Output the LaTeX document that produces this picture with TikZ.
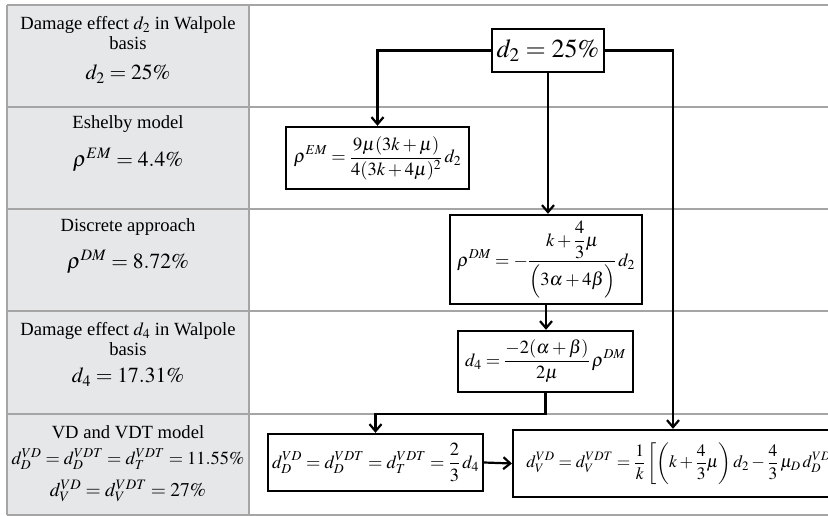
\documentclass[tikz,border=0pt]{standalone}
\usepackage{amsmath}
\usepackage{mathptmx}
\usepackage{fontspec}
\setmainfont{Liberation Serif}
\usetikzlibrary{arrows.meta}
\definecolor{fondgris}{RGB}{230,231,233}
\definecolor{filet}{RGB}{165,165,165}
\newcommand{\rangee}[1]{\draw[filet,line width=1.2pt] (7,#1) -- (840,#1)}
\newcommand{\titre}[3]{\node[gauche] (#1) at (128,#2) {#3}}
\newcommand{\valeur}[3]{\node[gauche,font=\fontsize{21.5}{24}\selectfont] (#1) at (128,#2) {#3}}
\tikzset{
  gauche/.style={align=center,inner sep=0pt,font=\fontsize{18.6}{20}\selectfont},
  boite/.style={draw,line width=2.4pt,inner sep=1pt,font=\fontsize{18.5}{21}\selectfont},
  fleche/.style={line width=2.2pt,-{Straight Barb[length=7pt,width=12pt]}}
}

\begin{document}
\begin{tikzpicture}[x=1pt,y=-1pt]
%
	\useasboundingbox (0,0) rectangle (828,516);
	\clip (0,0) rectangle (828,516);
	\fill[fondgris] (7,5) rectangle (249,515);
	\rangee{5};
	\rangee{107};
	\rangee{209};
	\rangee{311};
	\rangee{414};
	\rangee{515};
	\draw[filet,line width=1.2pt] (7,5) -- (7,515);
	\draw[filet,line width=1.2pt] (249,5) -- (249,515);
%
	\titre{t1}{33}{Damage effect $d_2$ in Walpole\\basis};
	\valeur{v1}{74}{$d_2=25\%$};
	\titre{t2}{124}{Eshelby model};
	\valeur{v2}{160}{$\rho^{EM}=4.4\%$};
	\titre{t3}{227}{Discrete approach};
	\valeur{v3}{262}{$\rho^{DM}=8.72\%$};
	\titre{t4}{339}{Damage effect $d_4$ in Walpole\\basis};
	\valeur{v4}{377}{$d_4=17.31\%$};
	\titre{t5}{432}{VD and VDT model};
	\node[gauche,font=\fontsize{18.4}{22}\selectfont] (v5) at (128,459) {$d_D^{VD}=d_D^{VDT}=d_T^{VDT}=11.55\%$};
	\node[gauche,font=\fontsize{19.5}{22}\selectfont] (w5) at (128,491) {$d_V^{VD}=d_V^{VDT}=27\%$};
%
	\node[boite,minimum width=112pt,minimum height=43pt,font=\fontsize{26}{30}\selectfont] (dd) at (548,50.5) {$d_2=25\%$};
	\node[boite,minimum width=183pt,minimum height=62pt] (em) at (377.5,158)
		{$\displaystyle\rho^{EM}=\frac{9\mu(3k+\mu)}{4(3k+4\mu)^2}\,d_2$};
	\node[boite,minimum width=192pt,minimum height=89pt] (dm) at (546,259.5)
		{$\displaystyle\rho^{DM}=-\frac{k+\dfrac{4}{3}\mu}{\Bigl(3\alpha+4\beta\Bigr)}\,d_2$};
	\node[boite,minimum width=175pt,minimum height=61pt] (dq) at (545.5,361.5)
		{$\displaystyle d_4=\frac{-2(\alpha+\beta)}{2\mu}\,\rho^{DM}$};
	\node[boite,minimum width=215pt,minimum height=57pt] (vd) at (375.5,462.5)
		{$\displaystyle d_D^{VD}=d_D^{VDT}=d_T^{VDT}=\frac{2}{3}\,d_4$};
	\node[boite,anchor=west,minimum width=340pt,minimum height=67pt,align=left,font=\fontsize{17.4}{21}\selectfont] (vv) at (512,463.5)
		{$\displaystyle d_V^{VD}=d_V^{VDT}=\frac{1}{k}\left[\left(k+\frac{4}{3}\mu\right)d_2-\frac{4}{3}\,\mu_D\,d_D^{VD}\right]$\hfill};
	\coordinate (coude) at (673,50.5);
%
	\draw[fleche] (dd.west) -| (em.north);
	\draw[fleche] (dd.south) -- (dd.south |- dm.north);
	\draw[fleche] (dd.east) -- (coude) -- (coude |- vv.north);
	\draw[fleche] (dm.south) -- (dm.south |- dq.north);
	\draw[fleche] (dq.south) -- ++(0,21) -| (vd.north);
	\draw[fleche] (vd.east) -- (vv.west);
%
\end{tikzpicture}
\end{document}
